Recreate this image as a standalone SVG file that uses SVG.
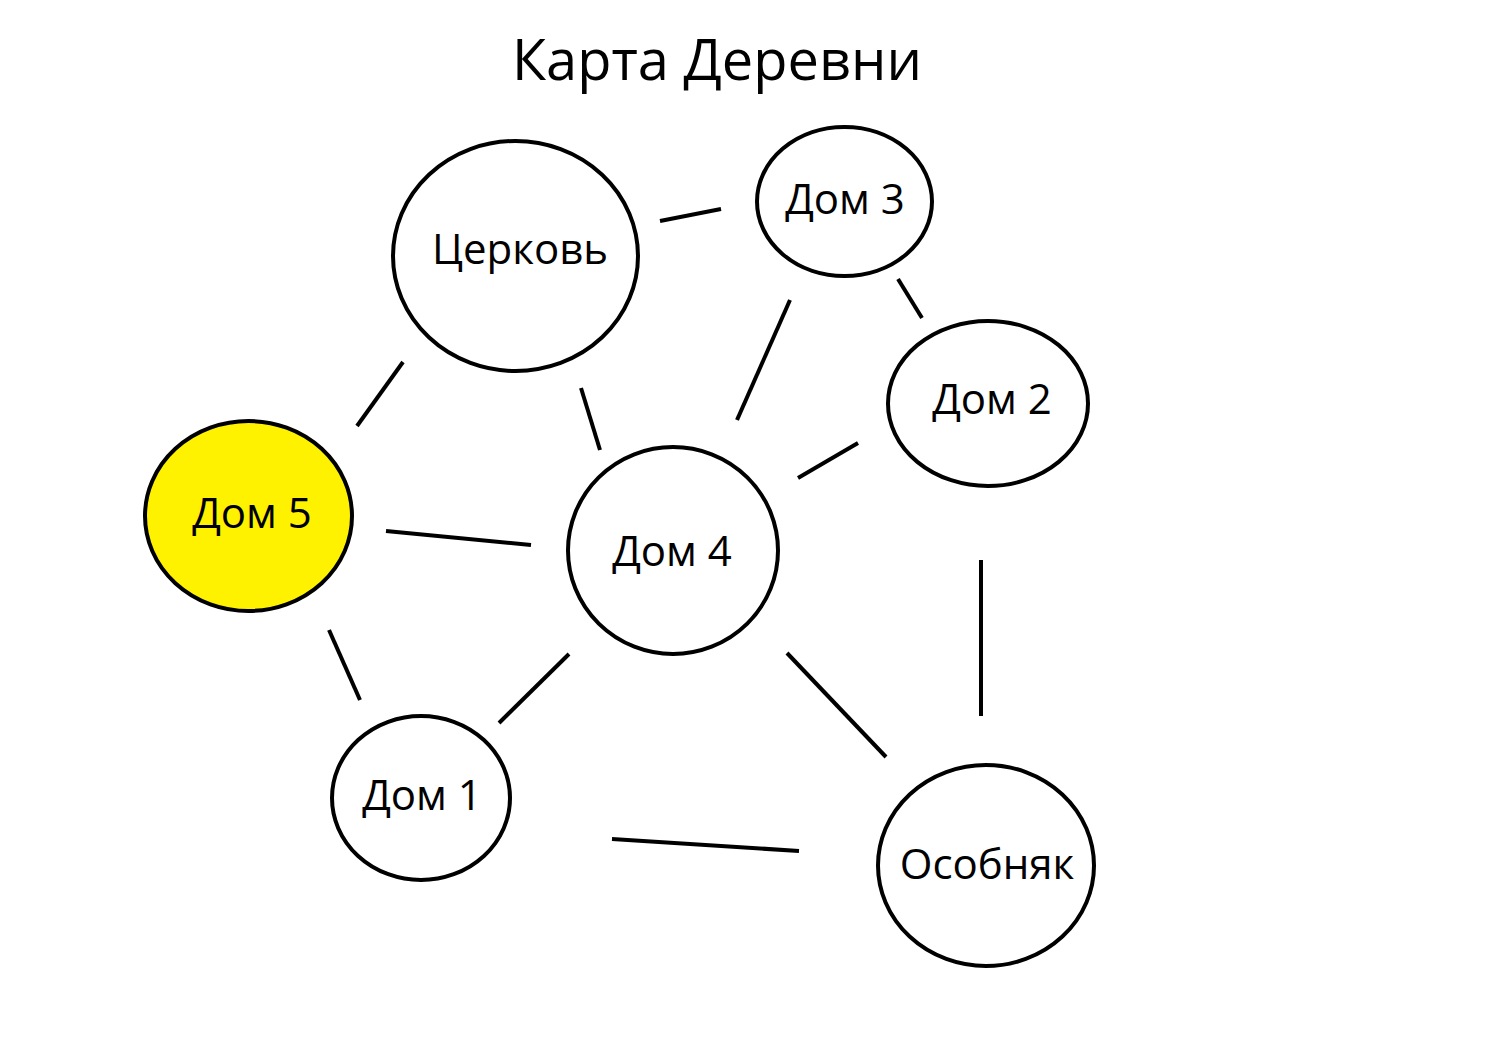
<svg xmlns="http://www.w3.org/2000/svg" width="1492" height="1062" viewBox="0 0 1492 1062">
<style>
.n{fill:#fff;stroke:#000;stroke-width:4}
.y{fill:#fff200}
.t{font-family:"Open Sans","Noto Sans","DejaVu Sans",sans-serif;font-size:42px;fill:#000;text-anchor:middle}
.c line{stroke:#000;stroke-width:4;stroke-linecap:butt}
</style>
<rect width="1492" height="1062" fill="#fff"/>
<text x="717" y="80" class="t" style="font-size:56px">Карта Деревни</text>
<g class="c" id="connectors">
<line x1="660" y1="221" x2="721" y2="209"/>
<line x1="403" y1="362" x2="357" y2="426"/>
<line x1="581" y1="388" x2="600" y2="450"/>
<line x1="790" y1="300" x2="737" y2="420"/>
<line x1="898" y1="279" x2="922" y2="318"/>
<line x1="858" y1="443" x2="798" y2="478"/>
<line x1="386" y1="531" x2="531" y2="545"/>
<line x1="329" y1="630" x2="360" y2="700"/>
<line x1="569" y1="654" x2="499" y2="723"/>
<line x1="787" y1="653" x2="886" y2="757"/>
<line x1="981" y1="560" x2="981" y2="716"/>
<line x1="612" y1="839" x2="799" y2="851"/>
</g>
<g id="church"><ellipse class="n" cx="515.5" cy="256" rx="122.5" ry="115"/><text class="t" x="520" y="264">Церковь</text></g>
<g id="dom3"><ellipse class="n" cx="844.5" cy="201.5" rx="87.5" ry="74.5"/><text class="t" x="845" y="214">Дом 3</text></g>
<g id="dom2"><ellipse class="n" cx="988" cy="403.5" rx="100" ry="82.5"/><text class="t" x="992" y="414">Дом 2</text></g>
<g id="dom5"><ellipse class="n y" cx="248.5" cy="516" rx="103.5" ry="95"/><text class="t" x="252" y="528">Дом 5</text></g>
<g id="dom4"><ellipse class="n" cx="673" cy="550.5" rx="105" ry="103.5"/><text class="t" x="672" y="566">Дом 4</text></g>
<g id="dom1"><ellipse class="n" cx="421" cy="798" rx="89" ry="82"/><text class="t" x="422" y="810">Дом 1</text></g>
<g id="mansion"><ellipse class="n" cx="986" cy="865.5" rx="108" ry="100.5"/><text class="t" x="987" y="879">Особняк</text></g>
</svg>
